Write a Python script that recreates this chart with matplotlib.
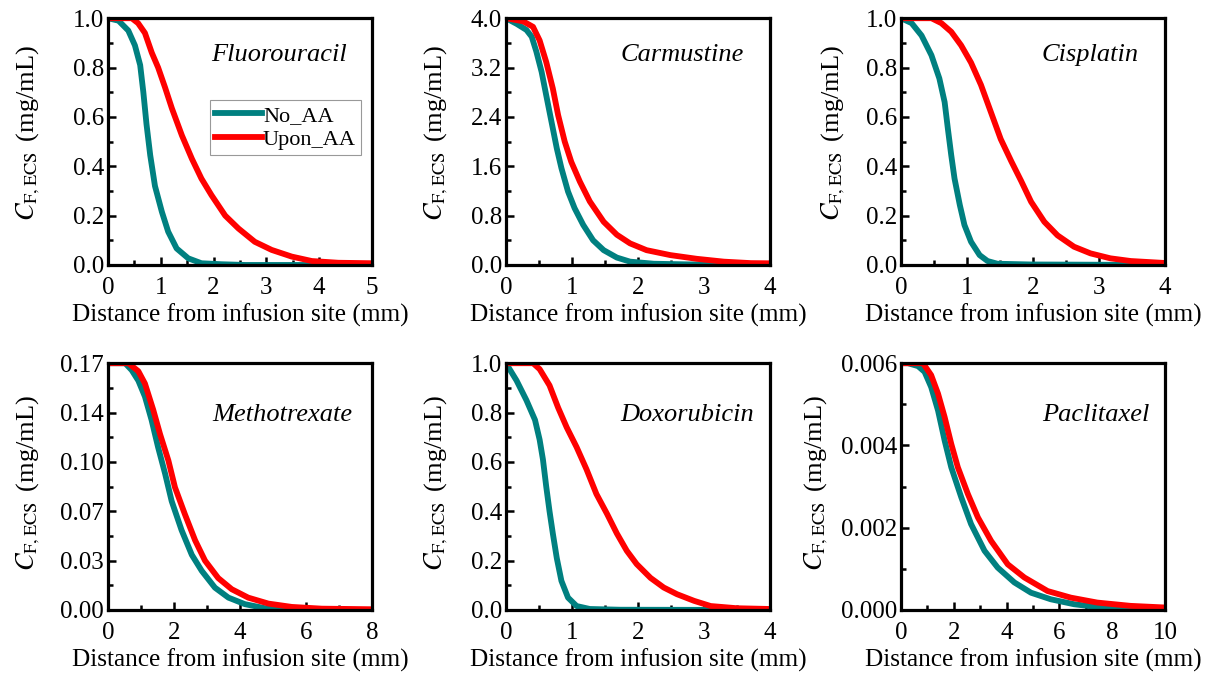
import numpy as np
import matplotlib
matplotlib.use('Agg')
import matplotlib.pyplot as plt
from matplotlib.ticker import MultipleLocator, AutoMinorLocator, FormatStrFormatter

plt.rcParams['font.family'] = ['Liberation Serif', 'DejaVu Serif']
plt.rcParams['mathtext.fontset'] = 'stix'

# values (distance in mm, concentration in mg/mL)
drugs = ['Fluorouracil', 'Carmustine', 'Cisplatin', 'Methotrexate', 'Doxorubicin', 'Paclitaxel']
series_names = ['No_AA', 'Upon_AA']

fluo_x_no = [0, 0.2, 0.385, 0.51, 0.61, 0.67, 0.73, 0.80, 0.89, 1.02, 1.14, 1.30, 1.52, 1.77, 2.15, 2.6, 5.0]
fluo_y_no = [1.0, 0.99, 0.95, 0.89, 0.81, 0.70, 0.57, 0.445, 0.32, 0.216, 0.135, 0.067, 0.027, 0.007, 0.003, 0.0, 0.0]
fluo_x_aa = [0, 0.45, 0.57, 0.70, 0.83, 0.95, 1.08, 1.21, 1.40, 1.59, 1.77, 1.96, 2.22, 2.47, 2.78, 3.10, 3.48, 3.86, 4.36, 5.0]
fluo_y_aa = [1.0, 1.0, 0.98, 0.94, 0.86, 0.80, 0.72, 0.635, 0.525, 0.43, 0.35, 0.283, 0.20, 0.148, 0.094, 0.061, 0.034, 0.016, 0.009, 0.007]

carm_x_no = [0, 0.16, 0.31, 0.39, 0.46, 0.54, 0.61, 0.69, 0.77, 0.84, 0.94, 1.04, 1.17, 1.32, 1.48, 1.68, 1.88, 2.24, 2.74, 4.0]
carm_y_no = [4.0, 3.91, 3.81, 3.70, 3.46, 3.13, 2.75, 2.32, 1.89, 1.57, 1.19, 0.92, 0.65, 0.40, 0.24, 0.12, 0.054, 0.02, 0.01, 0.0]
carm_x_aa = [0, 0.26, 0.41, 0.51, 0.61, 0.71, 0.79, 0.89, 0.99, 1.12, 1.27, 1.48, 1.68, 1.88, 2.13, 2.49, 2.89, 3.30, 3.71, 4.0]
carm_y_aa = [4.0, 3.95, 3.86, 3.64, 3.29, 2.86, 2.43, 2.0, 1.67, 1.35, 1.03, 0.70, 0.49, 0.35, 0.24, 0.16, 0.10, 0.054, 0.03, 0.027]

cisp_x_no = [0, 0.16, 0.31, 0.46, 0.58, 0.66, 0.71, 0.76, 0.81, 0.89, 0.96, 1.06, 1.19, 1.31, 1.46, 1.97, 4.0]
cisp_y_no = [1.0, 0.98, 0.93, 0.85, 0.756, 0.66, 0.55, 0.445, 0.35, 0.243, 0.162, 0.094, 0.04, 0.016, 0.005, 0.002, 0.0]
cisp_x_aa = [0, 0.46, 0.61, 0.76, 0.91, 1.06, 1.21, 1.36, 1.51, 1.67, 1.82, 1.97, 2.17, 2.37, 2.62, 2.87, 3.17, 3.48, 4.0]
cisp_y_aa = [1.0, 1.0, 0.98, 0.945, 0.89, 0.82, 0.73, 0.62, 0.51, 0.42, 0.34, 0.256, 0.175, 0.12, 0.074, 0.047, 0.027, 0.016, 0.008]

meth_x_no = [0, 0.52, 0.72, 0.92, 1.12, 1.32, 1.52, 1.73, 1.93, 2.23, 2.54, 2.84, 3.24, 3.65, 4.15, 4.76, 5.57, 8.0]
meth_y_no = [0.17, 0.17, 0.1652, 0.158, 0.147, 0.131, 0.112, 0.094, 0.075, 0.055, 0.038, 0.027, 0.0154, 0.0085, 0.004, 0.0012, 0.0002, 0.0]
meth_x_aa = [0, 0.62, 0.92, 1.12, 1.37, 1.58, 1.83, 2.03, 2.33, 2.64, 2.94, 3.34, 3.75, 4.25, 4.86, 5.57, 6.48, 8.0]
meth_y_aa = [0.17, 0.17, 0.1645, 0.156, 0.138, 0.121, 0.103, 0.0845, 0.066, 0.048, 0.034, 0.022, 0.0143, 0.0085, 0.0044, 0.0021, 0.0009, 0.0005]

doxo_x_no = [0, 0.16, 0.31, 0.44, 0.51, 0.56, 0.61, 0.66, 0.71, 0.77, 0.84, 0.94, 1.07, 1.27, 1.73, 4.0]
doxo_y_no = [1.0, 0.93, 0.85, 0.77, 0.69, 0.61, 0.50, 0.40, 0.31, 0.21, 0.118, 0.05, 0.016, 0.004, 0.001, 0.0]
doxo_x_aa = [0, 0.41, 0.51, 0.66, 0.79, 0.92, 1.07, 1.22, 1.37, 1.53, 1.68, 1.83, 1.98, 2.19, 2.39, 2.59, 2.85, 3.10, 3.50, 4.0]
doxo_y_aa = [1.0, 1.0, 0.976, 0.91, 0.82, 0.74, 0.66, 0.57, 0.47, 0.39, 0.31, 0.24, 0.186, 0.13, 0.091, 0.064, 0.037, 0.016, 0.007, 0.004]

pacl_x_no = [0, 0.26, 0.64, 0.89, 1.14, 1.40, 1.65, 1.90, 2.28, 2.65, 3.16, 3.66, 4.29, 4.92, 5.67, 6.55, 7.43, 8.69, 10.0]
pacl_y_no = [0.006, 0.006, 0.00593, 0.00579, 0.00542, 0.00485, 0.00412, 0.00347, 0.00274, 0.00209, 0.00144, 0.00103,
             0.00067, 0.00042, 0.00026, 0.00014, 0.00007, 0.00003, 0.00001]
pacl_x_aa = [0, 0.26, 0.83, 1.14, 1.40, 1.65, 1.90, 2.15, 2.53, 2.91, 3.41, 4.04, 4.67, 5.55, 6.43, 7.43, 8.69, 10.0]
pacl_y_aa = [0.006, 0.006, 0.006, 0.00571, 0.00526, 0.00469, 0.00404, 0.00347, 0.00282, 0.00225, 0.00168, 0.00111,
             0.00079, 0.00046, 0.0003, 0.00018, 0.0001, 0.00006]

curves = [
    (fluo_x_no, fluo_y_no, fluo_x_aa, fluo_y_aa),
    (carm_x_no, carm_y_no, carm_x_aa, carm_y_aa),
    (cisp_x_no, cisp_y_no, cisp_x_aa, cisp_y_aa),
    (meth_x_no, meth_y_no, meth_x_aa, meth_y_aa),
    (doxo_x_no, doxo_y_no, doxo_x_aa, doxo_y_aa),
    (pacl_x_no, pacl_y_no, pacl_x_aa, pacl_y_aa),
]
x_max = [5, 4, 4, 8, 4, 10]
y_max = [1.0, 4.0, 1.0, 0.17, 1.0, 0.006]
n_yticks = [6, 6, 6, 6, 6, 4]
y_fmt = ['%.1f', '%.1f', '%.1f', '%.2f', '%.1f', '%.3f']
x_major = [1, 1, 1, 2, 1, 2]
name_pos = [(0.905, 0.85), (0.90, 0.85), (0.90, 0.85), (0.925, 0.79), (0.94, 0.79), (0.94, 0.79)]
ylabel_pos = [(-0.25, 0.535), (-0.212, 0.535), (-0.204, 0.535), (-0.25, 0.515), (-0.212, 0.515), (-0.269, 0.515)]

teal = '#008080'
red = '#ff0000'

fig = plt.figure(figsize=(12.09, 6.77), dpi=100)
lefts = [0.0893, 0.4185, 0.7453]
bottoms = [0.6086, 0.099]
w, h = 0.2184, 0.3645

for i in range(6):
    ax = fig.add_axes([lefts[i % 3], bottoms[i // 3], w, h])
    xn, yn, xa, ya = curves[i]
    l1, = ax.plot(xn, yn, color=teal, lw=4.2, label=series_names[0], solid_joinstyle='round')
    l2, = ax.plot(xa, ya, color=red, lw=4.2, label=series_names[1], solid_joinstyle='round')
    ax.set_xlim(0, x_max[i])
    ax.set_ylim(0, y_max[i])
    ax.set_yticks(np.linspace(0, y_max[i], n_yticks[i]))
    ax.yaxis.set_major_formatter(FormatStrFormatter(y_fmt[i]))
    ax.yaxis.set_minor_locator(AutoMinorLocator(2))
    ax.xaxis.set_major_locator(MultipleLocator(x_major[i]))
    ax.xaxis.set_minor_locator(MultipleLocator(x_major[i] / 2))
    ax.tick_params(which='both', direction='in', top=False, right=False, labelsize=18, width=1.8)
    ax.tick_params(which='major', length=6)
    ax.tick_params(which='minor', length=3.5)
    ax.tick_params(axis='x', pad=9)
    ax.tick_params(axis='y', pad=3)
    for s in ax.spines.values():
        s.set_linewidth(2.3)
    ax.set_xlabel('Distance from infusion site (mm)', fontsize=18.2, labelpad=3)
    ax.set_ylabel(r'$C_{\rm F,ECS}\,$ (mg/mL)', fontsize=19)
    ax.yaxis.set_label_coords(*ylabel_pos[i])
    ax.text(name_pos[i][0], name_pos[i][1], drugs[i], transform=ax.transAxes, ha='right', va='center',
            fontsize=19, style='italic')
    if i == 0:
        leg = ax.legend(handles=[l1, l2], loc='upper right', bbox_to_anchor=(0.96, 0.67),
                        fontsize=16, frameon=True, fancybox=False, handlelength=2.1,
                        handletextpad=0.05, borderpad=0.25, labelspacing=0.15, borderaxespad=0)
        leg.get_frame().set_edgecolor('#808080')
        leg.get_frame().set_linewidth(0.8)

fig.savefig('out.png', dpi=100)
